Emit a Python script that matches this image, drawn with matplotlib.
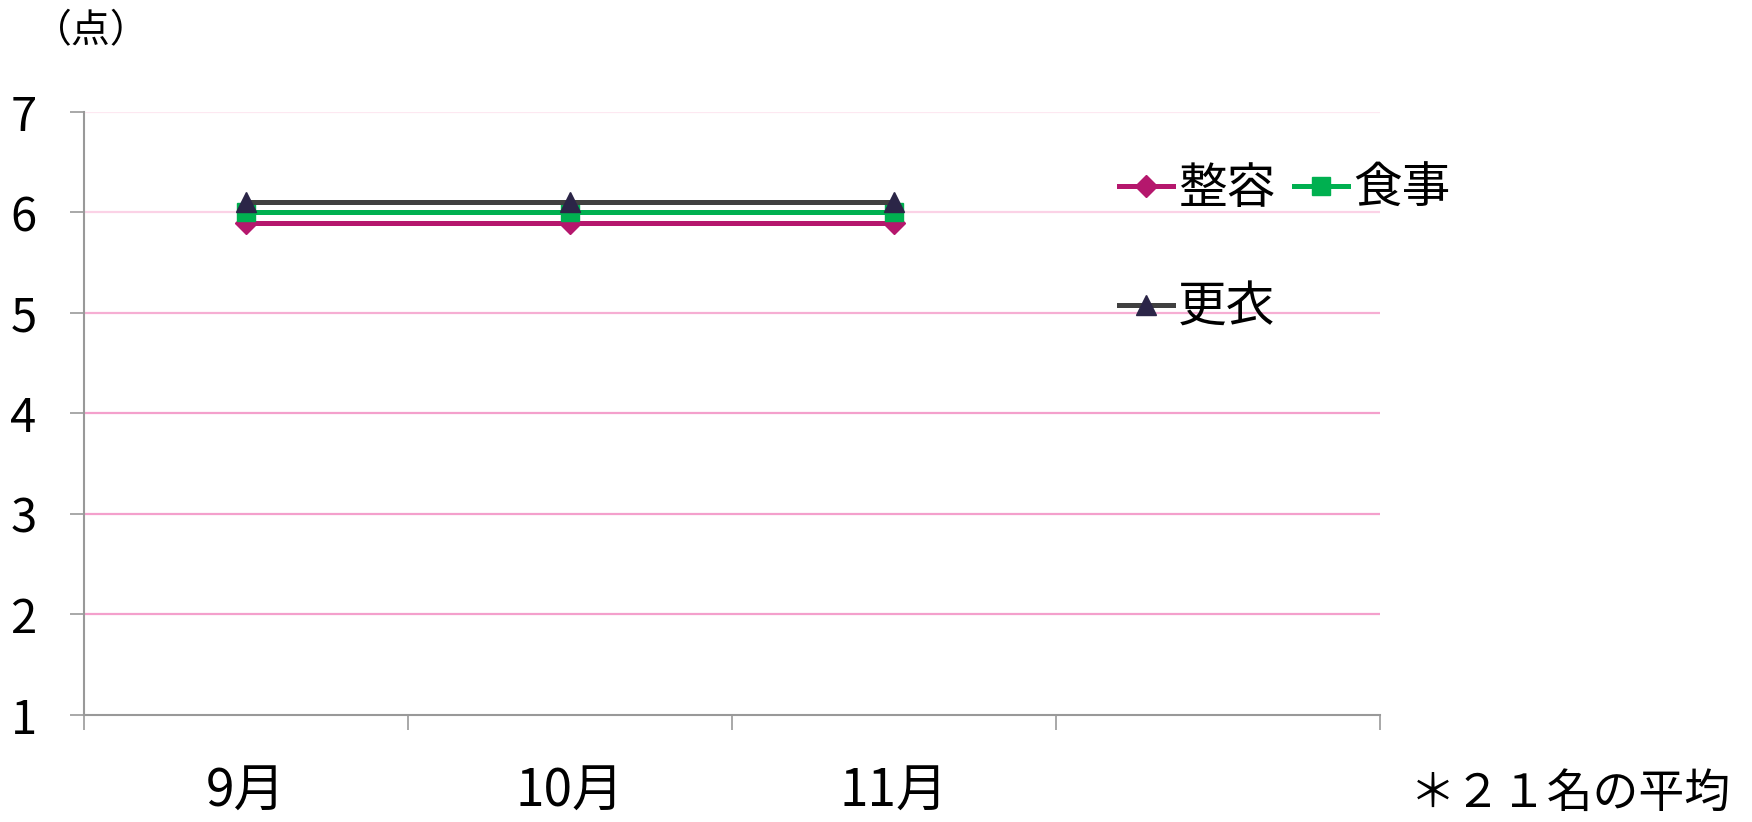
# ADL score averages (整容 / 食事 / 更衣), Sep–Nov, 21 residents
import numpy as np
import matplotlib; matplotlib.use("Agg"); import matplotlib.pyplot as plt
from matplotlib.ticker import FixedLocator, NullFormatter, FixedFormatter

plt.rcParams["font.family"] = ["Noto Sans CJK JP", "DejaVu Sans"]

months = ["9月", "10月", "11月", ""]
seiyou = [5.9, 5.9, 5.9, np.nan]   # 整容
shokuji = [6.0, 6.0, 6.0, np.nan]  # 食事
koui = [6.1, 6.1, 6.1, np.nan]     # 更衣
yticks = [1, 2, 3, 4, 5, 6, 7]
grid_cols = {2: "#f4a0cc", 3: "#f4a0cc", 4: "#f4a0cc", 5: "#f6aed3", 6: "#fbd2e6", 7: "#fde8f1"}

fig = plt.figure(figsize=(17.52, 8.22), dpi=100)
ax = fig.add_axes([0.0479, 0.1302, 0.7397, 0.7336])
x = np.arange(len(months))

for y, c in grid_cols.items():
    ax.axhline(y, color=c, lw=1.6, zorder=0)

l1, = ax.plot(x, seiyou, color="#b5176d", lw=3.6, marker="D", ms=11, mfc="#b5176d", mec="#b5176d", label="整容", zorder=3)
l2, = ax.plot(x, shokuji, color="#00b050", lw=3.6, marker="s", ms=13, mfc="#00b050", mec="#00b050", label="食事", zorder=4)
l3, = ax.plot(x, koui, color="#404040", lw=3.6, marker="^", ms=14, mfc="#2b2547", mec="#2b2547", label="更衣", zorder=5)

ax.set_xlim(-0.5, len(months) - 0.5)
ax.set_ylim(1, 7)
ax.set_yticks(yticks)
ax.tick_params(axis="y", labelsize=34, length=10, width=1.2, color="#999999", pad=24)
ax.xaxis.set_major_locator(FixedLocator(np.arange(len(months) + 1) - 0.5))
ax.xaxis.set_major_formatter(NullFormatter())
ax.xaxis.set_minor_locator(FixedLocator(x))
ax.xaxis.set_minor_formatter(FixedFormatter(months))
ax.tick_params(axis="x", which="major", length=11, width=1.2, color="#999999")
ax.tick_params(axis="x", which="minor", length=0, labelsize=37, pad=36)
for s in ["top", "right"]:
    ax.spines[s].set_visible(False)
for s in ["left", "bottom"]:
    ax.spines[s].set_color("#999999"); ax.spines[s].set_linewidth(1.5)

leg = ax.legend([l1, l3, l2], ["整容", "更衣", "食事"], ncol=2, loc="upper left",
                bbox_to_anchor=(0.784, 0.945), frameon=False, fontsize=35,
                handlelength=1.1, handletextpad=0.1, columnspacing=0.4, labelspacing=1.42,
                borderaxespad=0)

fig.text(0.019, 0.962, "（点）", fontsize=28, va="center", ha="left")
fig.text(0.988, 0.034, "＊２１名の平均", fontsize=33, va="center", ha="right")

fig.savefig("out.png", dpi=100)
